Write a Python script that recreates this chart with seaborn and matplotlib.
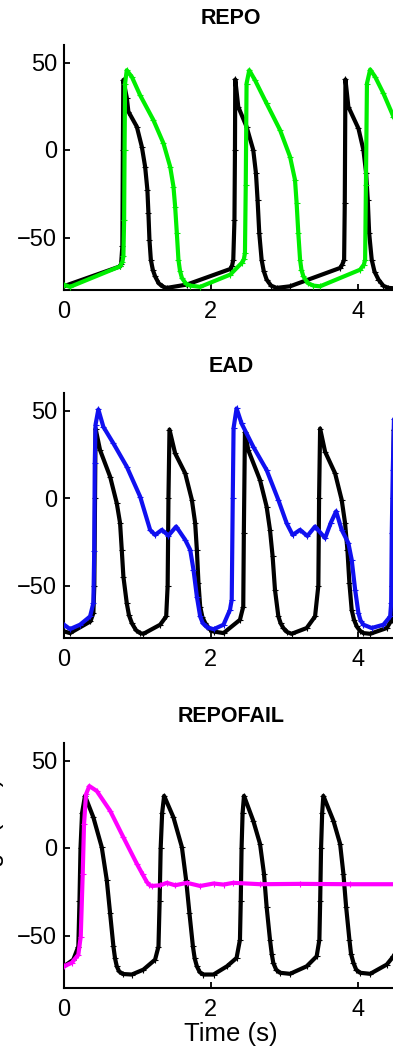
import matplotlib
matplotlib.use("Agg")
import matplotlib.pyplot as plt
import seaborn as sns

# ---------------- data ----------------
titles = ["REPO", "EAD", "REPOFAIL"]
x_ticks = [0, 2, 4]
y_ticks = [-50, 0, 50]
x_label = "Time (s)"
y_label = "Voltage (mV)"

# REPO panel - control (black)
repo_ctrl_t = [0.000, 0.764, 0.778, 0.795, 0.802, 0.808, 0.855, 0.877, 0.992, 1.060, 1.105,
               1.136, 1.150, 1.164, 1.183, 1.210, 1.241, 1.290, 1.355, 1.401, 1.674, 2.265,
               2.290, 2.306, 2.322, 2.329, 2.333, 2.374, 2.487, 2.578, 2.615, 2.637, 2.660,
               2.692, 2.720, 2.760, 2.820, 2.896, 3.079, 3.761, 3.790, 3.816, 3.825, 3.834,
               3.874, 4.011, 4.079, 4.116, 4.138, 4.157, 4.192, 4.230, 4.284, 4.350, 4.420,
               4.557]
repo_ctrl_v = [-77.8, -66.5, -65.0, -55.0, 0.0, 40.0, 30.0, 22.0, 13.3, 1.9, -9.5,
               -22.8, -36.0, -51.3, -62.7, -68.5, -72.2, -76.2, -78.2, -78.8, -76.9, -68.0,
               -66.0, -62.7, -40.0, 0.0, 40.3, 24.7, 13.3, 0.0, -13.3, -28.5, -47.5,
               -62.7, -69.0, -74.0, -77.5, -78.8, -77.9, -67.4, -65.5, -62.7, -30.0, 40.3,
               24.7, 12.3, 0.0, -13.3, -28.5, -47.5, -62.7, -69.5, -74.0, -77.6, -78.8,
               -79.2]
# REPO panel - mutant (green)
repo_mut_t = [0.000, 0.082, 0.764, 0.795, 0.809, 0.819, 0.825, 0.832, 0.855, 0.924, 1.037,
              1.218, 1.355, 1.446, 1.491, 1.514, 1.537, 1.559, 1.580, 1.606, 1.660, 1.719,
              1.855, 2.265, 2.419, 2.450, 2.465, 2.476, 2.487, 2.524, 2.602, 2.760, 2.943,
              3.079, 3.147, 3.169, 3.192, 3.216, 3.235, 3.261, 3.320, 3.397, 3.488, 4.034,
              4.085, 4.102, 4.113, 4.127, 4.171, 4.239, 4.352, 4.488, 4.584]
repo_mut_v = [-77.0, -78.2, -66.5, -64.0, -60.8, -40.0, 0.0, 38.0, 45.6, 41.8, 31.3,
              17.1, 3.8, -9.5, -20.9, -32.3, -47.5, -62.7, -69.0, -73.1, -76.3, -77.5,
              -78.2, -71.2, -64.6, -62.5, -58.9, -20.0, 38.0, 45.6, 39.9, 26.6, 11.4,
              -3.8, -17.1, -30.4, -47.5, -62.7, -68.5, -72.2, -76.0, -77.5, -77.9, -68.4,
              -65.5, -62.7, -20.0, 38.0, 46.0, 41.8, 32.3, 19.0, 10.0]

# EAD panel - control (black)
ead_ctrl_t = [0.000, 0.082, 0.360, 0.400, 0.413, 0.423, 0.430, 0.491, 0.628, 0.719, 0.764,
              0.787, 0.809, 0.855, 0.885, 0.924, 0.980, 1.037, 1.082, 1.310, 1.392, 1.412,
              1.423, 1.437, 1.514, 1.651, 1.742, 1.787, 1.810, 1.832, 1.855, 1.885, 1.924,
              1.980, 2.037, 2.173, 2.397, 2.442, 2.450, 2.465, 2.510, 2.670, 2.760, 2.806,
              2.842, 2.874, 2.920, 2.950, 2.988, 3.040, 3.101, 3.306, 3.420, 3.465, 3.475,
              3.489, 3.557, 3.693, 3.783, 3.829, 3.861, 3.888, 3.919, 3.950, 3.988, 4.030,
              4.079, 4.171, 4.397, 4.465, 4.475, 4.482, 4.493, 4.557]
ead_ctrl_v = [-76.2, -77.2, -70.5, -65.8, -50.0, 0.0, 39.7, 27.4, 12.2, -3.0, -14.4,
              -29.7, -44.9, -60.1, -67.0, -71.5, -75.5, -77.2, -77.6, -72.4, -67.7, -50.0,
              0.0, 39.1, 25.5, 14.1, -1.1, -14.4, -29.7, -48.7, -62.0, -68.0, -71.5,
              -74.8, -76.3, -77.2, -69.6, -62.0, -20.0, 37.8, 27.4, 10.3, -4.9, -18.2,
              -33.4, -52.4, -67.6, -71.5, -74.3, -76.6, -77.6, -74.3, -67.7, -50.0, 0.0,
              39.7, 26.4, 14.1, -1.1, -14.4, -29.7, -48.7, -63.9, -69.5, -73.4, -75.8,
              -77.2, -77.6, -74.3, -69.6, -50.0, 0.0, 39.0, 27.0]
# EAD panel - mutant (blue)
ead_mut_t = [0.000, 0.082, 0.218, 0.355, 0.400, 0.412, 0.419, 0.430, 0.468, 0.536, 0.673,
             0.855, 1.037, 1.173, 1.241, 1.333, 1.423, 1.528, 1.651, 1.719, 1.764, 1.810,
             1.855, 1.890, 1.947, 2.037, 2.173, 2.261, 2.285, 2.299, 2.310, 2.351, 2.419,
             2.578, 2.760, 2.920, 3.033, 3.115, 3.216, 3.315, 3.420, 3.557, 3.636, 3.707,
             3.783, 3.874, 3.919, 3.966, 4.011, 4.040, 4.079, 4.192, 4.352, 4.443, 4.457,
             4.465, 4.479, 4.495, 4.530]
ead_mut_v = [-72.4, -74.9, -72.4, -67.7, -60.1, -30.0, 20.0, 42.0, 50.6, 40.7, 31.2,
             17.9, 0.8, -18.2, -21.1, -18.2, -21.5, -16.3, -23.9, -29.6, -41.0, -56.3,
             -67.7, -71.5, -73.8, -75.0, -72.4, -63.9, -58.0, 0.0, 40.0, 51.2, 42.6,
             29.3, 16.0, -1.1, -14.4, -21.1, -18.2, -21.7, -16.3, -22.9, -14.0, -7.6,
             -18.2, -25.8, -35.3, -52.4, -65.8, -70.0, -72.4, -74.3, -72.4, -67.7, -60.0,
             -20.0, 16.0, 45.0, 51.0]

# REPOFAIL panel - control (black)
fail_ctrl_t = [0.000, 0.127, 0.195, 0.211, 0.225, 0.246, 0.286, 0.400, 0.514, 0.583, 0.628,
               0.673, 0.695, 0.719, 0.750, 0.800, 0.924, 1.082, 1.241, 1.287, 1.303, 1.317,
               1.337, 1.364, 1.491, 1.606, 1.664, 1.709, 1.756, 1.780, 1.810, 1.850, 1.900,
               2.037, 2.220, 2.351, 2.397, 2.408, 2.419, 2.433, 2.452, 2.578, 2.670, 2.724,
               2.760, 2.806, 2.830, 2.851, 2.890, 2.943, 3.079, 3.306, 3.442, 3.479, 3.490,
               3.502, 3.517, 3.533, 3.670, 3.761, 3.806, 3.843, 3.888, 3.910, 3.943, 3.980,
               4.034, 4.171, 4.397, 4.488, 4.557]
fail_ctrl_v = [-67.6, -63.8, -56.3, -30.0, 0.0, 20.0, 29.8, 17.5, 0.5, -18.4, -37.3,
               -56.2, -63.0, -67.6, -70.5, -72.0, -72.3, -69.5, -63.8, -56.3, -30.0, 0.0,
               20.0, 29.8, 17.5, 0.5, -18.4, -37.3, -56.2, -63.0, -67.6, -71.0, -72.3,
               -72.3, -67.6, -62.8, -52.4, -30.0, 0.0, 20.0, 29.8, 15.6, 2.4, -14.6,
               -33.5, -52.4, -60.5, -65.6, -69.5, -71.3, -71.9, -67.6, -61.9, -52.4, -30.0,
               0.0, 20.0, 29.8, 15.6, 2.4, -14.6, -33.5, -52.4, -60.5, -65.6, -69.5,
               -71.3, -71.9, -66.6, -61.9, -55.0]
# REPOFAIL panel - mutant (magenta)
fail_mut_t = [0.000, 0.105, 0.195, 0.228, 0.255, 0.273, 0.300, 0.345, 0.446, 0.628, 0.809,
              0.992, 1.070, 1.128, 1.160, 1.196, 1.310, 1.401, 1.514, 1.674, 1.855, 2.037,
              2.173, 2.306, 2.674, 3.220, 3.900, 4.557]
fail_mut_v = [-67.6, -65.6, -61.0, -50.6, -14.6, 13.7, 30.7, 35.4, 32.6, 21.3, 6.1,
              -9.0, -15.0, -19.4, -21.0, -21.7, -21.3, -19.9, -21.3, -19.9, -21.7, -20.3,
              -20.9, -19.9, -20.7, -20.5, -20.7, -20.7]

panels = [
    (repo_ctrl_t, repo_ctrl_v, repo_mut_t, repo_mut_v, "#00ee00"),
    (ead_ctrl_t, ead_ctrl_v, ead_mut_t, ead_mut_v, "#1010f0"),
    (fail_ctrl_t, fail_ctrl_v, fail_mut_t, fail_mut_v, "#ff00ff"),
]

# ---------------- style ----------------
sns.set_style("ticks")
plt.rcParams['font.family'] = ['Liberation Sans', 'DejaVu Sans']
plt.rcParams['text.color'] = 'black'

W, H = 393, 1057
fig = plt.figure(figsize=(W / 100, H / 100), dpi=100)

left = 64 / W
width = (398 - 64) / W
tops = [45, 393, 743]
bottoms = [290, 638, 988]

for i, (ct, cv, mt, mv, col) in enumerate(panels):
    ax = fig.add_axes([left, 1 - bottoms[i] / H, width, (bottoms[i] - tops[i]) / H])
    sns.lineplot(x=ct, y=cv, ax=ax, color="black", lw=3.0, marker="+",
                 markersize=4, markeredgecolor="black", markeredgewidth=0.8,
                 sort=False, estimator=None, zorder=2)
    sns.lineplot(x=mt, y=mv, ax=ax, color=col, lw=3.0, marker="+",
                 markersize=4, markeredgecolor=col, markeredgewidth=0.8,
                 sort=False, estimator=None, zorder=3)
    ax.set_xlim(0, 4.55)
    ax.set_ylim(-80, 60)
    ax.set_xticks(x_ticks)
    ax.set_yticks(y_ticks)
    ax.tick_params(direction="in", length=4, width=1.3, labelsize=17,
                   colors="black", labelcolor="black")
    ax.tick_params(axis="y", pad=5)
    ax.tick_params(axis="x", pad=8)
    for s in ["top", "right"]:
        ax.spines[s].set_visible(False)
    for s in ["left", "bottom"]:
        ax.spines[s].set_linewidth(1.5)
        ax.spines[s].set_color("black")
    ax.set_title(titles[i], fontsize=15.5, fontweight="bold", pad=15, color="black")
    ax.set_xlabel("")
    ax.set_ylabel("")
    if i == 2:
        ax.set_xlabel(x_label, fontsize=18.5, labelpad=1, color="black")

fig.text(4 / W, 1 - 850 / H, y_label, rotation=90, ha="right", va="center",
         fontsize=18, color="black")

fig.savefig("out.png", dpi=100)
